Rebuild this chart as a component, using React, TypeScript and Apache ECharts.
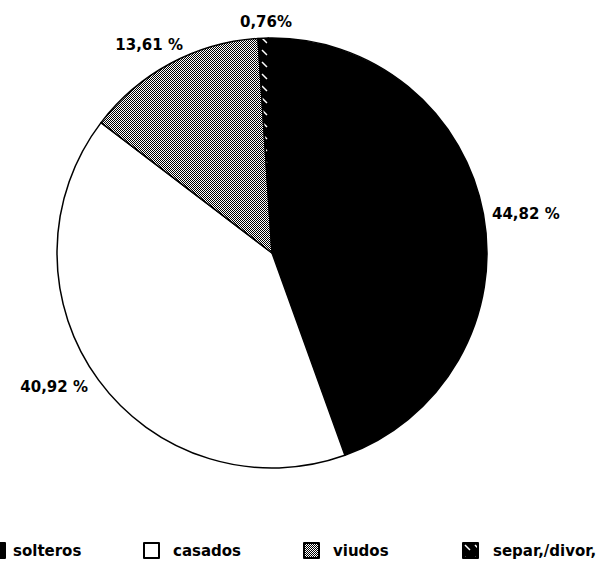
import React, { useEffect, useRef } from "react";
import * as echarts from "echarts";

const categories = ["solteros", "casados", "viudos", "separ,/divor,"];
const values = [44.82, 40.92, 13.61, 0.76];
const valueLabels = ["44,82 %", "40,92 %", "13,61 %", "0,76%"];

// layout only (not data)
const legendLefts = [-11, 143, 303, 462];
const legendTextGap = [3, 9, 9, 10];
const labelAnchors: { x: number; y: number; align: string }[] = [
  { x: 492, y: 214, align: "left" },
  { x: 88, y: 387, align: "right" },
  { x: 183, y: 45, align: "right" },
  { x: 266, y: 22, align: "center" },
];

function makeChecker(): HTMLCanvasElement {
  const c = document.createElement("canvas");
  c.width = 2;
  c.height = 2;
  const ctx = c.getContext("2d")!;
  ctx.fillStyle = "#fff";
  ctx.fillRect(0, 0, 2, 2);
  ctx.fillStyle = "#000";
  ctx.fillRect(0, 0, 1, 1);
  ctx.fillRect(1, 1, 1, 1);
  return c;
}

function makeHatch(): HTMLCanvasElement {
  const c = document.createElement("canvas");
  c.width = 10;
  c.height = 12;
  const ctx = c.getContext("2d")!;
  ctx.fillStyle = "#000";
  ctx.fillRect(0, 0, 10, 12);
  ctx.strokeStyle = "#fff";
  ctx.lineWidth = 1.5;
  ctx.beginPath();
  ctx.moveTo(2, 2);
  ctx.lineTo(7, 7);
  ctx.stroke();
  return c;
}

export default function App() {
  const ref = useRef<HTMLDivElement>(null);
  useEffect(() => {
    if (!ref.current) return;
    const chart = echarts.init(ref.current, undefined, { renderer: "svg" });
    const fills: any[] = [
      "#000000",
      "#ffffff",
      { image: makeChecker(), repeat: "repeat" },
      { image: makeHatch(), repeat: "repeat" },
    ];
    const font = "'DejaVu Sans', sans-serif";
    const data = categories.map((name, i) => ({
      name,
      value: values[i],
      itemStyle: { color: fills[i] },
      label: { formatter: valueLabels[i] },
    }));
    chart.setOption({
      animation: false,
      backgroundColor: "#ffffff",
      legend: categories.map((name, i) => ({
        data: [name],
        left: legendLefts[i],
        top: 542,
        padding: 0,
        itemWidth: 15,
        itemHeight: 15,
        icon: "rect",
        selectedMode: false,
        textStyle: {
          fontFamily: font,
          fontWeight: "bold",
          fontSize: 15,
          color: "#000",
          padding: [0, 0, 0, legendTextGap[i]],
        },
      })),
      series: [
        {
          type: "pie",
          center: [272, 253],
          radius: 215,
          startAngle: 91,
          clockwise: true,
          silent: true,
          avoidLabelOverlap: false,
          itemStyle: { borderColor: "#000", borderWidth: 1.5 },
          label: {
            show: true,
            position: "outside",
            fontFamily: font,
            fontWeight: "bold",
            fontSize: 15,
            color: "#000",
          },
          labelLine: { show: false, length: 10, length2: 0 },
          labelLayout: (params: any) => {
            const a = labelAnchors[params.dataIndex];
            return { x: a.x, y: a.y, align: a.align, verticalAlign: "middle" };
          },
          emphasis: { disabled: true },
          data,
        },
      ],
    });
    return () => chart.dispose();
  }, []);
  return (
    <div
      ref={ref}
      style={{ position: "absolute", left: 0, top: 0, width: 604, height: 561 }}
    />
  );
}
